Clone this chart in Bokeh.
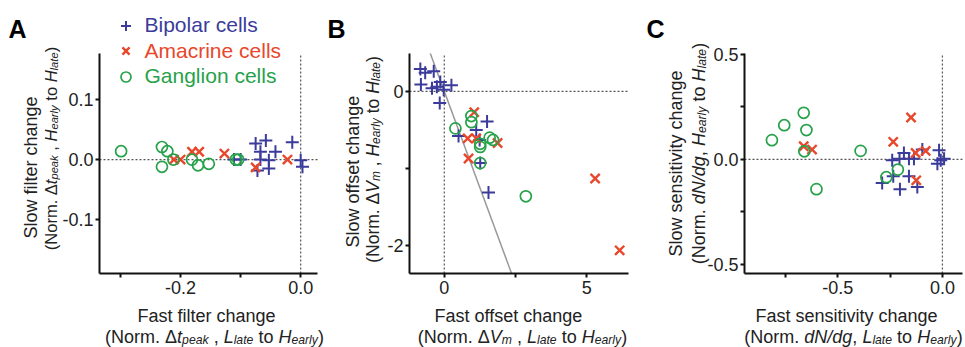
import math
from bokeh.plotting import figure
from bokeh.models import (Label, Legend, LegendItem, LinearAxis, FixedTicker,
                          PrintfTickFormatter, Range1d)
from bokeh.embed import file_html
from bokeh.resources import INLINE

# ---------------- data ----------------
cell_types = ["Bipolar cells", "Amacrine cells", "Ganglion cells"]

# Panel A: fast vs slow filter change
a_bip_x = [-0.111, -0.100, -0.075, -0.058, -0.067, -0.042, -0.067, -0.053, -0.072, -0.053, -0.014, 0.000, 0.003]
a_bip_y = [0.000, 0.000, 0.027, 0.032, 0.013, 0.013, 0.000, -0.001, -0.018, -0.015, 0.029, -0.001, -0.012]
a_ama_x = [-0.211, -0.200, -0.181, -0.169, -0.127, -0.075, -0.022]
a_ama_y = [0.000, 0.000, 0.013, 0.013, 0.010, -0.013, 0.000]
a_gan_x = [-0.299, -0.231, -0.222, -0.231, -0.212, -0.181, -0.171, -0.153, -0.108, -0.104]
a_gan_y = [0.014, 0.021, 0.014, -0.012, 0.000, 0.000, -0.0095, -0.007, 0.000, 0.000]

# Panel B: fast vs slow offset change
b_bip_x = [-0.84, -0.67, -0.37, -0.82, -0.43, -0.14, -0.26, -0.02, 0.25, -0.16, 1.50, 1.12, 0.50, 1.24, 1.26, 1.55]
b_bip_y = [0.29, 0.24, 0.26, 0.09, 0.04, 0.12, 0.06, 0.02, 0.08, -0.15, -0.39, -0.50, -0.58, -0.63, -0.93, -1.31]
b_ama_x = [1.05, 0.82, 1.12, 1.87, 0.85, 5.29, 6.15]
b_ama_y = [-0.27, -0.61, -0.61, -0.67, -0.87, -1.13, -2.06]
b_gan_x = [0.39, 0.95, 0.95, 1.26, 1.26, 1.59, 1.71, 1.26, 2.86]
b_gan_y = [-0.48, -0.32, -0.40, -0.68, -0.72, -0.60, -0.63, -0.93, -1.36]
b_unity_slope = -1.0
b_unity_intercept = 0.0

# Panel C: fast vs slow sensitivity change
c_bip_x = [-0.240, -0.184, -0.160, -0.136, -0.096, -0.288, -0.235, -0.203, -0.160, -0.120, -0.016, -0.008, -0.024, 0.008, -0.205]
c_bip_y = [-0.005, 0.030, 0.003, 0.003, 0.046, -0.113, -0.081, -0.142, -0.081, -0.132, 0.043, -0.005, -0.021, 0.003, 0.003]
c_ama_x = [-0.663, -0.623, -0.150, -0.235, -0.128, -0.080, -0.125]
c_ama_y = [0.062, 0.046, 0.199, 0.083, 0.030, 0.040, -0.100]
c_gan_x = [-0.815, -0.756, -0.663, -0.650, -0.660, -0.602, -0.391, -0.268, -0.213]
c_gan_y = [0.091, 0.162, 0.221, 0.139, 0.038, -0.142, 0.040, -0.085, -0.049]

# axis ranges, ticks and tick labels
a_xrange, a_yrange = (-0.335, 0.028), (-0.19, 0.177)
b_xrange, b_yrange = (-1.22, 6.46), (-2.36, 0.49)
c_xrange, c_yrange = (-0.946, 0.096), (-0.543, 0.503)
a_xticks, a_xminor, a_yticks, a_yminor = [-0.2, 0.0], [-0.3, -0.1], [-0.1, 0.0, 0.1], []
b_xticks, b_xminor, b_yticks, b_yminor = [0, 5], [2.5], [-2, 0], [-1]
c_xticks, c_xminor, c_yticks, c_yminor = [-0.5, 0.0], [-0.75, -0.25], [-0.5, 0.0, 0.5], [-0.25, 0.25]
a_xlabels, a_ylabels = ["-0.2", "0.0"], ["-0.1", "0.0", "0.1"]
b_xlabels, b_ylabels = ["0", "5"], ["-2", "0"]
c_xlabels, c_ylabels = ["-0.5", "0.0"], ["-0.5", "0.0", "0.5"]

# ---------------- layout / styling ----------------
PW, PH = 965, 347
FONT = "Liberation Sans"
BLUE, RED, GREEN = "#3b3b9c", "#e8472b", "#27a24a"
TXT = "#222222"
# frame boxes in page pixels (left, right, top, bottom)
BOX = {"A": (99, 317, 53, 273), "B": (409, 628, 53, 273), "C": (744, 962, 53, 273)}
RANGES = {"A": (a_xrange, a_yrange), "B": (b_xrange, b_yrange), "C": (c_xrange, c_yrange)}

W = {' ': 278, '(': 333, ')': 333, '.': 278, ',': 278, '-': 333, '/': 278,
     'A': 667, 'B': 667, 'C': 722, 'F': 611, 'H': 722, 'L': 556, 'N': 722, 'S': 667, 'V': 667,
     'a': 556, 'c': 500, 'd': 556, 'e': 556, 'f': 278, 'g': 556, 'h': 556, 'i': 222, 'k': 500,
     'l': 222, 'm': 833, 'n': 556, 'o': 556, 'p': 556, 'r': 333, 's': 500, 't': 278, 'v': 500,
     'w': 722, 'y': 500, 'Δ': 668}


def tw(s, size):
    return sum(W.get(ch, 556) for ch in s) * size / 1000.0


def canvas_ranges(name):
    (l, r, t, b) = BOX[name]
    (x0, x1), (y0, y1) = RANGES[name]
    kx = (x1 - x0) / (r - l)
    ky = (y1 - y0) / (b - t)
    xr = Range1d(x0 - l * kx, x0 + (PW - l) * kx)
    yr = Range1d(y1 - (PH - t) * ky, y1 + t * ky)
    return xr, yr


p = figure(width=PW, height=PH, x_axis_type=None, y_axis_type=None,
           output_backend="svg", toolbar_location=None,
           min_border_left=0, min_border_right=0, min_border_top=0, min_border_bottom=0)
p.outline_line_color = None
p.xgrid.visible = False
p.ygrid.visible = False
p.background_fill_color = "white"
p.border_fill_color = "white"
ax_r, ay_r = canvas_ranges("A")
p.x_range = ax_r
p.y_range = ay_r
p.extra_x_ranges = {n: canvas_ranges(n)[0] for n in BOX}
p.extra_y_ranges = {n: canvas_ranges(n)[1] for n in BOX}


def style_axis(ax, fmt, ticks, labels, standoff=3):
    ax.formatter = PrintfTickFormatter(format=fmt)
    ax.major_label_overrides = {float(t): s for t, s in zip(ticks, labels)}
    ax.axis_line_width = 2
    ax.axis_line_color = "#111111"
    ax.major_tick_line_width = 2
    ax.major_tick_line_color = "#111111"
    ax.major_tick_out = 4
    ax.major_tick_in = 0
    ax.minor_tick_line_width = 2
    ax.minor_tick_line_color = "#111111"
    ax.minor_tick_out = 4
    ax.minor_tick_in = 0
    ax.major_label_text_font = FONT
    ax.major_label_text_font_size = "18px"
    ax.major_label_text_color = TXT
    ax.major_label_standoff = standoff


def panel(name, xt, xm, xl, yt, ym, yl, fmt, bx, by, amx, amy, gx, gy):
    (x0, x1), (y0, y1) = RANGES[name]
    xa = LinearAxis(x_range_name=name, y_range_name=name, fixed_location=y0, bounds=(x0, x1),
                    ticker=FixedTicker(ticks=xt, minor_ticks=xm))
    ya = LinearAxis(x_range_name=name, y_range_name=name, fixed_location=x0, bounds=(y0, y1),
                    ticker=FixedTicker(ticks=yt, minor_ticks=ym))
    style_axis(xa, fmt, xt, xl, 3)
    style_axis(ya, fmt, yt, yl, 2)
    p.add_layout(xa, "below")
    p.add_layout(ya, "left")
    kw = dict(x_range_name=name, y_range_name=name)
    p.segment(x0=[0], y0=[y0], x1=[0], y1=[y1], line_color="#555555", line_dash="2 2", line_width=1.2, **kw)
    p.segment(x0=[x0], y0=[0], x1=[x1], y1=[0], line_color="#555555", line_dash="2 2", line_width=1.2, **kw)
    if name == "B":
        m, c = b_unity_slope, b_unity_intercept
        p.segment(x0=[(y1 - c) / m], y0=[y1], x1=[(y0 - c) / m], y1=[y0],
                  line_color="#999999", line_width=1.5, **kw)
    rb = p.scatter(bx, by, marker="cross", size=13, line_color=BLUE, line_width=2, **kw)
    ra = p.scatter(amx, amy, marker="x", size=13, line_color=RED, line_width=2.4, **kw)
    rg = p.scatter(gx, gy, marker="circle", size=11, fill_color=None, line_color=GREEN, line_width=1.7, **kw)
    return rb, ra, rg


def add_label(**kw):
    p.add_layout(Label(x_units="screen", y_units="screen", level="underlay",
                       background_fill_color=None, border_line_color=None, **kw))


def rich(segs, center, baseline, size, rotated=False, sub=0.68):
    off = 0.0
    pieces = []
    for txt, kind in segs:
        sz = size * (sub if kind == 's' else 1.0)
        lead = len(txt) - len(txt.lstrip(' '))
        pieces.append((txt.strip(' '), kind, sz, off + tw(' ' * lead, sz)))
        off += tw(txt, sz)
    total = off
    for txt, kind, sz, o in pieces:
        drop = size * 0.22 if kind == 's' else 0.0
        style = "italic" if kind in ('i', 's') else "normal"
        if not rotated:
            X, Y, ang = center - total / 2 + o, baseline + drop, 0
        else:
            X, Y, ang = baseline + drop, center + total / 2 - o, math.pi / 2
        add_label(x=X, y=PH - Y, text=txt, text_font=FONT, text_font_size=f"{sz:.1f}px",
                  text_font_style=style, text_color=TXT, angle=ang,
                  text_align="left", text_baseline="alphabetic")


def letter(ch, X):
    add_label(x=X, y=PH - 28, text=ch, text_font=FONT, text_font_size="25px",
              text_font_style="bold", text_color="#000000",
              text_align="left", text_baseline="alphabetic")


# ---------------- panel A ----------------
rA = panel("A", a_xticks, a_xminor, a_xlabels, a_yticks, a_yminor, a_ylabels, "%.1f",
           a_bip_x, a_bip_y, a_ama_x, a_ama_y, a_gan_x, a_gan_y)
letter("A", 8)
for i, (r, lab, col) in enumerate(zip(rA, cell_types, (BLUE, RED, GREEN))):
    lg = Legend(items=[LegendItem(label=lab, renderers=[r])],
                location=(112.5, PH - 37.5 - 25.5 * i),
                border_line_color=None, background_fill_alpha=0, padding=0, margin=0,
                glyph_width=25, glyph_height=25, label_height=25, label_standoff=7, spacing=0,
                label_text_font=FONT, label_text_font_size="21px", label_text_color=col)
    p.add_layout(lg)
rich([("Fast filter change", 'n')], 206, 315, 18)
rich([("(Norm. ", 'n'), ("Δ", 'n'), ("t", 'i'), ("peak", 's'), (" , ", 'n'), ("L", 'i'),
      ("late", 's'), (" to ", 'n'), ("H", 'i'), ("early", 's'), (")", 'n')], 214, 336, 18)
rich([("Slow filter change", 'n')], 167, 30, 18, rotated=True)
rich([("(Norm. ", 'n'), ("Δ", 'n'), ("t", 'i'), ("peak", 's'), (" , ", 'n'), ("H", 'i'),
      ("early", 's'), (" to ", 'n'), ("H", 'i'), ("late", 's'), (")", 'n')], 148, 50, 16.5, rotated=True)

# ---------------- panel B ----------------
panel("B", b_xticks, b_xminor, b_xlabels, b_yticks, b_yminor, b_ylabels, "%d",
      b_bip_x, b_bip_y, b_ama_x, b_ama_y, b_gan_x, b_gan_y)
letter("B", 327)
rich([("Fast offset change", 'n')], 508, 315, 18)
rich([("(Norm. ", 'n'), ("Δ", 'n'), ("V", 'i'), ("m", 's'), (" , ", 'n'), ("L", 'i'),
      ("late", 's'), (" to ", 'n'), ("H", 'i'), ("early", 's'), (")", 'n')], 522, 336, 18)
rich([("Slow offset change", 'n')], 171, 352, 18, rotated=True)
rich([("(Norm. ", 'n'), ("Δ", 'n'), ("V", 'i'), ("m", 's'), (" , ", 'n'), ("H", 'i'),
      ("early", 's'), (" to ", 'n'), ("H", 'i'), ("late", 's'), (")", 'n')], 159, 372, 17.5, rotated=True)

# ---------------- panel C ----------------
panel("C", c_xticks, c_xminor, c_xlabels, c_yticks, c_yminor, c_ylabels, "%.1f",
      c_bip_x, c_bip_y, c_ama_x, c_ama_y, c_gan_x, c_gan_y)
letter("C", 646)
rich([("Fast sensitivity change", 'n')], 846, 315, 18)
rich([("(Norm. ", 'n'), ("dN/dg", 'i'), (", ", 'n'), ("L", 'i'), ("late", 's'), (" to ", 'n'),
      ("H", 'i'), ("early", 's'), (")", 'n')], 853, 336, 18)
rich([("Slow sensitivity change", 'n')], 163, 675, 18, rotated=True)
rich([("(Norm. ", 'n'), ("dN/dg", 'i'), (", ", 'n'), ("H", 'i'), ("early", 's'), (" to ", 'n'),
      ("H", 'i'), ("late", 's'), (")", 'n')], 153, 698, 18, rotated=True)

open("out.html", "w").write(file_html(p, INLINE))
